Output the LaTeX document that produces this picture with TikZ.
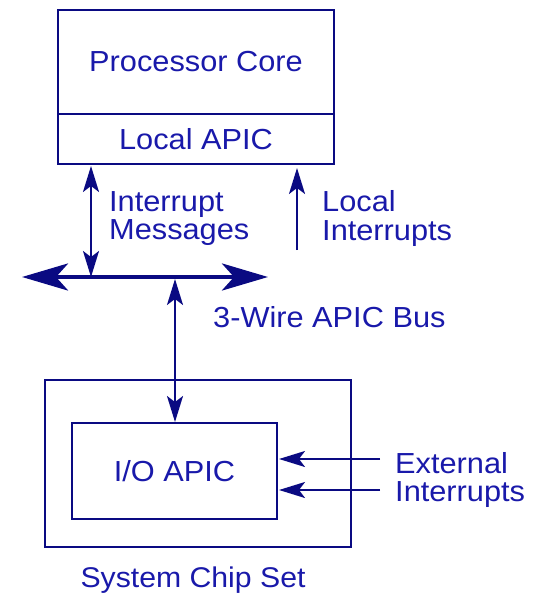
\documentclass[tikz,border=0pt]{standalone}
\usepackage{fontspec}
\usetikzlibrary{arrows.meta}
\newfontfamily\lab[FakeStretch=1.06]{Liberation Sans}
\definecolor{lc}{RGB}{10,10,130}
\definecolor{tc}{RGB}{25,25,170}
\tikzset{
  box/.style={draw=lc, line width=2pt, inner sep=0pt, anchor=north west, text=tc, font=\lab\fontsize{29}{29}\selectfont},
  lbl/.style={inner sep=0pt, text=tc, font=\lab\fontsize{29}{28.5}\selectfont, align=left},
  sarr/.style={draw=lc, line width=2pt, -{Stealth[length=26pt,width=16pt,inset=6pt]}},
  darr/.style={draw=lc, line width=2pt, {Stealth[length=26pt,width=16pt,inset=6pt]}-{Stealth[length=26pt,width=16pt,inset=6pt]}},
  busarr/.style={draw=lc, line width=4.5pt, {Stealth[length=46pt,width=27pt,inset=12pt]}-{Stealth[length=46pt,width=27pt,inset=12pt]}}
}
\begin{document}
\begin{tikzpicture}[x=1pt,y=-1pt]
\useasboundingbox (0,0) rectangle (536,593);
% boxes
\node[box, minimum width=276pt, minimum height=104pt] (core) at (57,9) {Processor Core};
\node[box, minimum width=276pt, minimum height=50pt] (lapic) at (57,113) {Local APIC};
\node[box, minimum width=306pt, minimum height=167pt] (chip) at (44,379) {};
\node[box, minimum width=205pt, minimum height=96pt] (ioapic) at (71,422) {I/O APIC};
% bus
\coordinate (busL) at (22,277);
\coordinate (busR) at (268,277);
\draw[busarr] (busL) -- (busR);
% interrupt messages
\coordinate (imBus) at (91,277);
\draw[darr, shorten <=1pt] (lapic.south -| imBus) -- (imBus);
% local interrupts
\coordinate (liStart) at (297,250);
\draw[sarr, shorten >=3pt] (liStart) -- (lapic.south -| liStart);
% bus to io apic
\coordinate (ioBus) at (175,279);
\draw[darr] (ioBus) -- (ioapic.north -| ioBus);
% external interrupts
\coordinate (ext1) at (380,459);
\coordinate (ext2) at (380,490);
\draw[sarr, shorten >=1pt] (ext1) -- (ext1 -| ioapic.east);
\draw[sarr, shorten >=1pt] (ext2) -- (ext2 -| ioapic.east);
% labels
\node[lbl, anchor=north west] (imlbl) at (109,191) {Interrupt\\Messages};
\node[lbl, anchor=north west] (lilbl) at (322,190.5) {Local\\Interrupts};
\node[lbl, anchor=north west] (extlbl) at (395,452) {External\\Interrupts};
\node[lbl, anchor=base west] (buslbl) at (213,327.5) {3-Wire APIC Bus};
\node[inner sep=0pt, text=tc, font=\lab\fontsize{28.5}{28.5}\selectfont, anchor=base] (chiplbl) at (193,587) {System Chip Set};
\end{tikzpicture}
\end{document}
